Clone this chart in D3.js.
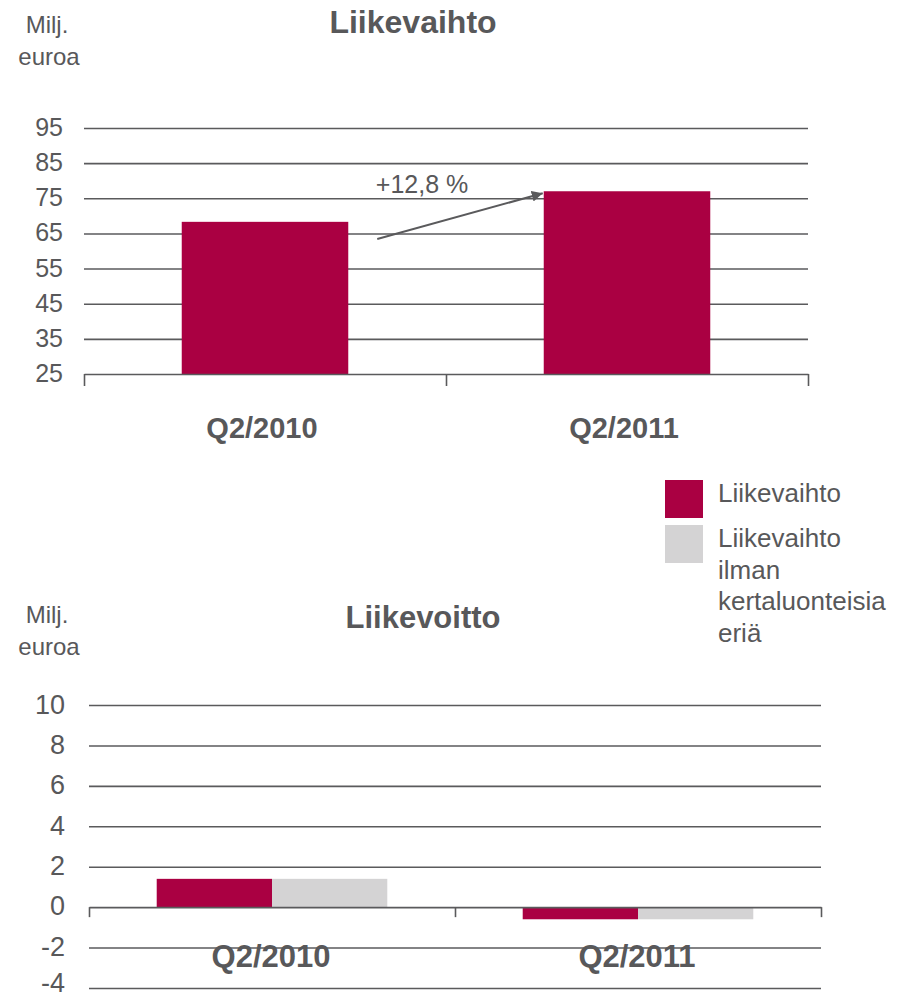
<!DOCTYPE html>
<html>
<head>
<meta charset="utf-8">
<script src="https://cdn.jsdelivr.net/npm/d3@7"></script>
<style>
  body { margin: 0; background: #fff; }
  text { font-family: Arial, "Liberation Sans", sans-serif; fill: #58585a; }
</style>
</head>
<body>
<div id="chart"></div>
<script>
// data
let quarters = ['Q2/2010', 'Q2/2011'];
let revenue = [68.3, 77.0];            // Liikevaihto, milj. euroa
let opSeries = ['Liikevoitto', 'Liikevoitto ilman kertaluonteisia eriä'];
let opProfit = [1.4, -0.6];            // Liikevoitto
let opProfitAdj = [1.4, -0.6];         // ilman kertaluonteisia eriä
let revTicks = [25, 35, 45, 55, 65, 75, 85, 95];
let opTicks = [-4, -2, 0, 2, 4, 6, 8, 10];
let growthLabel = '+12,8 %';
let legendItems = [
  { name: 'Liikevaihto', lines: ['Liikevaihto'] },
  { name: 'Liikevaihto ilman kertaluonteisia eriä', lines: ['Liikevaihto', 'ilman', 'kertaluonteisia', 'eriä'] }
];

const red = '#aa0042';
const grey = '#d4d3d4';
const ink = '#5a5a5c';

let svg = d3.select('#chart').append('svg')
  .attr('width', 903).attr('height', 998);

// arrow marker
svg.append('defs').append('marker')
  .attr('id', 'arr').attr('viewBox', '0 0 10 10')
  .attr('refX', 10).attr('refY', 5)
  .attr('markerWidth', 5.5).attr('markerHeight', 5.5)
  .attr('markerUnits', 'strokeWidth')
  .attr('orient', 'auto')
  .append('path').attr('d', 'M0,0L10,5L0,10z').attr('fill', ink);

function unitLabel(g, yTop) {
  g.append('text').attr('x', 47).attr('y', yTop).attr('text-anchor', 'middle')
    .attr('font-size', 24).text('Milj.');
  g.append('text').attr('x', 49).attr('y', yTop + 32).attr('text-anchor', 'middle')
    .attr('font-size', 24).text('euroa');
}

// hyphen minus like the original, not the unicode minus
let fmt = d => String(d);

function gridAxis(g, yScale, ticks, x0, x1, fs, labelX) {
  let ax = g.append('g').attr('transform', `translate(${x0},0)`)
    .call(d3.axisLeft(yScale).tickValues(ticks).tickSize(-(x1 - x0)).tickPadding(0).tickFormat(fmt));
  ax.select('.domain').remove();
  ax.selectAll('.tick line').attr('stroke', ink).attr('stroke-width', 1.6);
  ax.selectAll('.tick text').attr('x', labelX - x0).attr('font-size', fs).attr('dy', '0.3em')
    .attr('fill', ink).style('font-family', 'Arial, "Liberation Sans", sans-serif');
  return ax;
}

function catAxis(g, n, x0, x1, y, tick) {
  let xb = d3.scaleLinear().domain([0, n]).range([x0, x1]);
  let ax = g.append('g').attr('transform', `translate(0,${y})`)
    .call(d3.axisBottom(xb).tickValues(d3.range(n + 1)).tickSize(tick).tickSizeOuter(0).tickFormat(''));
  ax.select('.domain').attr('stroke', ink).attr('stroke-width', 1.6);
  ax.selectAll('.tick line').attr('stroke', ink).attr('stroke-width', 1.6);
}

// ---------- top chart: Liikevaihto ----------
let topG = svg.append('g');
unitLabel(topG, 33);
topG.append('text').attr('x', 413).attr('y', 33).attr('text-anchor', 'middle')
  .attr('font-size', 32).attr('font-weight', 'bold').text('Liikevaihto');

let yR = d3.scaleLinear().domain([25, 95]).range([374, 128]);
let xR = d3.scaleBand().domain(quarters).range([84, 808]).paddingInner(0.54).paddingOuter(0.27);

gridAxis(topG, yR, revTicks.filter(t => t > 25), 84, 808, 25, 63);
// label for 25 sits on the axis line
topG.append('text').attr('x', 63).attr('y', yR(25)).attr('dy', '0.3em')
  .attr('text-anchor', 'end').attr('font-size', 25).text(revTicks[0]);

topG.selectAll('rect.rev').data(quarters).join('rect')
  .attr('class', 'rev')
  .attr('x', d => xR(d)).attr('width', xR.bandwidth())
  .attr('y', (d, i) => yR(revenue[i]))
  .attr('height', (d, i) => yR(25) - yR(revenue[i]))
  .attr('fill', red);

catAxis(topG, quarters.length, 84, 808, 374, 12);

topG.selectAll('text.cat').data(quarters).join('text')
  .attr('class', 'cat')
  .attr('x', d => xR(d) + xR.bandwidth() / 2 - 3).attr('y', 438)
  .attr('text-anchor', 'middle').attr('font-size', 29).attr('font-weight', 'bold')
  .text(d => d);

// growth arrow from first to second bar
let ax0 = xR(quarters[0]) + xR.bandwidth() + 29;
let ay0 = yR(63.4);
let ax1 = xR(quarters[1]) - 1;
let ay1 = yR(revenue[1]) + 2;
topG.append('line').attr('x1', ax0).attr('y1', ay0).attr('x2', ax1).attr('y2', ay1)
  .attr('stroke', ink).attr('stroke-width', 2).attr('marker-end', 'url(#arr)');
topG.append('text').attr('x', 422).attr('y', 193).attr('text-anchor', 'middle')
  .attr('font-size', 25).text(growthLabel);

// ---------- legend ----------
let leg = svg.append('g');
let legColors = [red, grey];
let legTop = [480, 525];
legendItems.forEach((it, i) => {
  leg.append('rect').attr('x', 665).attr('y', legTop[i]).attr('width', 38).attr('height', 38)
    .attr('fill', legColors[i]);
  let t = leg.append('text').attr('x', 718).attr('y', legTop[i] + 22).attr('font-size', 26);
  it.lines.forEach((ln, j) => {
    t.append('tspan').attr('x', 718).attr('dy', j === 0 ? 0 : 31.5).text(ln);
  });
});

// ---------- bottom chart: Liikevoitto ----------
let botG = svg.append('g');
unitLabel(botG, 623);
botG.append('text').attr('x', 423).attr('y', 628).attr('text-anchor', 'middle')
  .attr('font-size', 31).attr('font-weight', 'bold').text('Liikevoitto');

let yO = d3.scaleLinear().domain([-4, 10]).range([988, 705]);
let xO = d3.scaleBand().domain(quarters).range([89, 821]).paddingInner(0.37).paddingOuter(0.185);
let xS = d3.scaleBand().domain(opSeries).range([0, xO.bandwidth()]);

let botAx = gridAxis(botG, yO, opTicks.filter(t => t !== 0), 89, 821, 27, 65);
// lowest label sits at the page edge, lift it a little
botAx.selectAll('.tick text').filter(d => d === opTicks[0]).attr('dy', '0.12em');
botG.append('text').attr('x', 65).attr('y', yO(0)).attr('dy', '0.3em')
  .attr('text-anchor', 'end').attr('font-size', 27).text(0);

let opRows = quarters.map((q, i) => ({ q, vals: [opProfit[i], opProfitAdj[i]] }));
let opColors = d3.scaleOrdinal().domain(opSeries).range([red, grey]);

botG.selectAll('g.grp').data(opRows).join('g')
  .attr('class', 'grp')
  .attr('transform', d => `translate(${xO(d.q)},0)`)
  .selectAll('rect').data(d => d.vals.map((v, j) => ({ s: opSeries[j], v })))
  .join('rect')
  .attr('x', d => xS(d.s)).attr('width', xS.bandwidth())
  .attr('y', d => yO(Math.max(0, d.v)))
  .attr('height', d => Math.abs(yO(d.v) - yO(0)))
  .attr('fill', d => opColors(d.s));

catAxis(botG, quarters.length, 89, 821, yO(0), 10);

botG.selectAll('text.cat').data(quarters).join('text')
  .attr('class', 'cat')
  .attr('x', d => xO(d) + xO.bandwidth() / 2 - 1).attr('y', 967)
  .attr('text-anchor', 'middle').attr('font-size', 31).attr('font-weight', 'bold')
  .text(d => d);
</script>
</body>
</html>
